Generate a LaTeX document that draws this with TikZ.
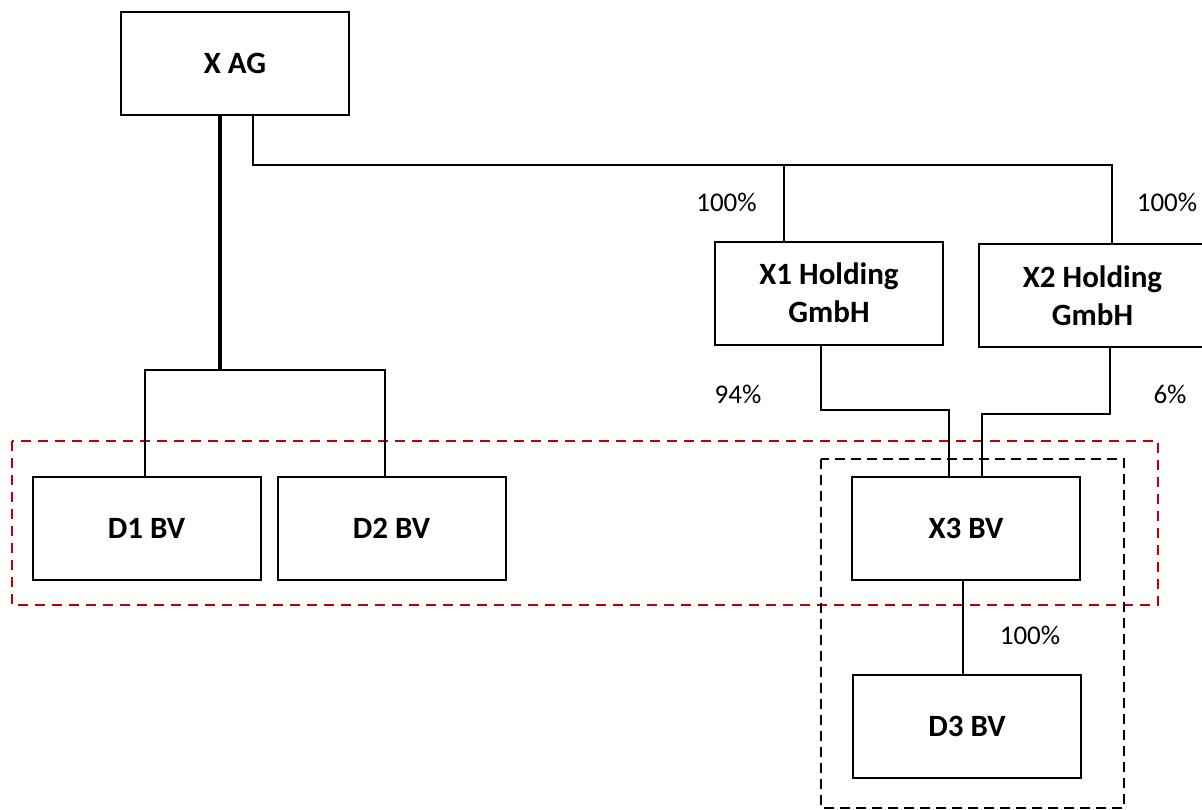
\documentclass[tikz,border=0pt]{standalone}
\usepackage{fontspec}
\setmainfont{Carlito}
\begin{document}
\begin{tikzpicture}[x=1pt,y=-1pt,
  company/.style={draw=black, line width=2pt, fill=white, minimum width=228pt,
    minimum height=103pt, align=center, inner sep=0pt,
    font=\fontsize{31}{38}\selectfont\bfseries},
  link/.style={draw=black, line width=2pt},
  mainlink/.style={draw=black, line width=4pt},
  share/.style={font=\fontsize{27}{32}\selectfont, anchor=base, inner sep=0pt},
  redgroup/.style={draw={rgb,255:red,192;green,0;blue,0}, line width=2.5pt,
    dash pattern=on 10pt off 7pt},
  blackgroup/.style={draw=black, line width=2.5pt, dash pattern=on 10pt off 6pt}]

\useasboundingbox (0,0) rectangle (1202,809);

% group frames
\draw[redgroup] (12,441) rectangle (1158,605);
\draw[blackgroup] (821,459) rectangle (1124,808);

% companies
\node[company] (xag) at (235,63) {X AG};
\node[company] (d1) at (146.5,528.5) {D1 BV};
\node[company] (d2) at (391.5,528.5) {D2 BV};
\node[company] (x1) at (829,293) {X1 Holding\\GmbH};
\node[company] (x2) at (1092.5,295.5) {X2 Holding\\GmbH};
\node[company] (x3) at (966,528.5) {X3 BV};
\node[company] (d3) at (967,726.5) {D3 BV};

% X AG -> D1 BV / D2 BV
\coordinate (dj) at (220,370);
\coordinate (dl) at (145,370);
\coordinate (dr) at (385,370);
\draw[mainlink] (xag.south -| dj) -- (dj);
\draw[link] (d1.north -| dl) -- (dl) -- (dr) -- (d2.north -| dr);

% X AG -> holdings
\coordinate (tl) at (253,165);
\coordinate (tm) at (784,165);
\coordinate (tr) at (1112,165);
\draw[link] (xag.south -| tl) -- (tl) -- (tr) -- (x2.north -| tr);
\draw[link] (tm) -- (x1.north -| tm);

% holdings -> X3 BV
\coordinate (a1) at (821,410);
\coordinate (a2) at (949,410);
\draw[link] (x1.south -| a1) -- (a1) -- (a2) -- (x3.north -| a2);
\coordinate (b1) at (1110,414);
\coordinate (b2) at (982,414);
\draw[link] (x2.south -| b1) -- (b1) -- (b2) -- (x3.north -| b2);

% X3 BV -> D3 BV
\coordinate (c1) at (963,620);
\draw[link] (x3.south -| c1) -- (d3.north -| c1);

% shareholdings
\node[share] (p1) at (726.5,211) {100\%};
\node[share] (p2) at (1167,211) {100\%};
\node[share] (p3) at (738,403) {94\%};
\node[share] (p4) at (1170,403) {6\%};
\node[share] (p5) at (1030,644) {100\%};
\end{tikzpicture}
\end{document}
